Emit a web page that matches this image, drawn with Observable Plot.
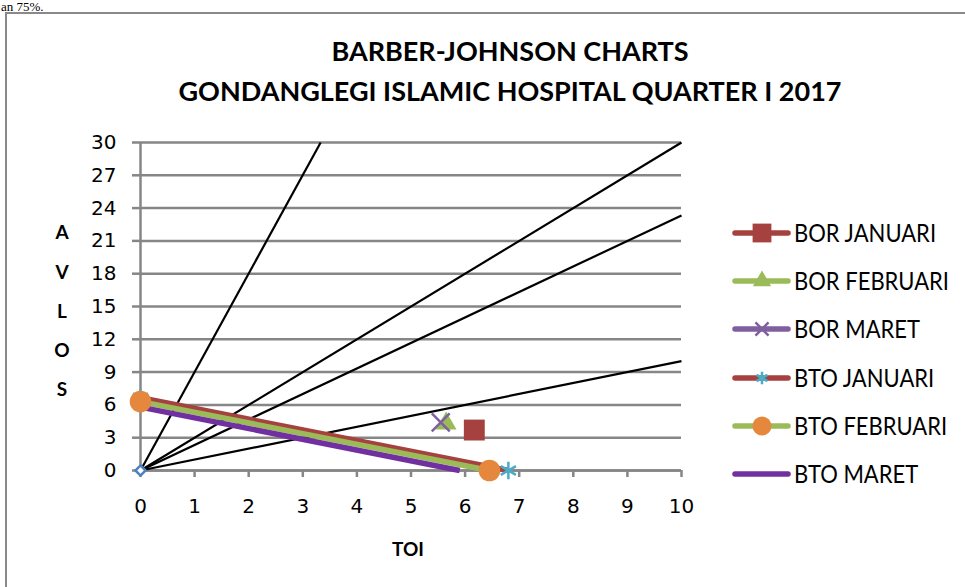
<!DOCTYPE html>
<html>
<head>
<meta charset="utf-8">
<script src="https://cdn.jsdelivr.net/npm/d3@7"></script>
<script src="https://cdn.jsdelivr.net/npm/@observablehq/plot@0.6"></script>
<style>
  body { margin: 0; background: #fff; }
  #wrap { position: relative; width: 965px; height: 587px; overflow: hidden; background: #fff; font-family: Lato, "Open Sans", sans-serif; }
  #frame { position: absolute; left: 5px; top: 12px; width: 980px; height: 600px; border: 2px solid #898989; box-sizing: border-box; }
  #chart { position: absolute; left: 0; top: 0; }
  .title { position: absolute; left: 0; width: 1020px; text-align: center; font-weight: bold; font-size: 27px; color: #000; white-space: nowrap; }
  .vlab { position: absolute; font-weight: bold; font-size: 19px; width: 30px; text-align: center; }
  #toi { position: absolute; font-weight: bold; font-size: 19px; }
  #topfrag { position: absolute; left: 1px; top: 0px; font-family: "Liberation Serif", serif; font-size: 13px; line-height: 13px; }
  #legend { position: absolute; left: 725px; top: 0; }
  .lrow { position: absolute; left: 0; height: 30px; white-space: nowrap; }
  .lrow span { position: absolute; left: 69px; top: 0; line-height: 30px; font-size: 22px; color: #000; transform: scaleY(1.1); transform-origin: 0 50%; }
</style>
</head>
<body>
<div id="wrap">
  <div id="topfrag">an 75%.</div>
  <div id="frame"></div>
  <div id="chart"></div>
  <div class="title" id="t1" style="top:34px">BARBER-JOHNSON CHARTS</div>
  <div class="title" id="t2" style="top:74px">GONDANGLEGI ISLAMIC HOSPITAL QUARTER I 2017</div>
  <div id="ylab"></div>
  <div id="toi">TOI</div>
  <div id="legend"></div>
</div>
<script>
// ---- data ----
const xTicks = [0, 1, 2, 3, 4, 5, 6, 7, 8, 9, 10];
const yTicks = [0, 3, 6, 9, 12, 15, 18, 21, 24, 27, 30];

// BOR reference lines from the origin (TOI, AVLOS at the far end)
const refNames = ["BOR 50%", "BOR 70%", "BOR 75%", "BOR 90%"];
const refToiEnd = [10, 10, 10, 3.33];
const refLosEnd = [10, 23.33, 30, 30];

// BTO lines: AVLOS intercept and TOI intercept
const btoNames = ["BTO JANUARI", "BTO FEBRUARI", "BTO MARET"];
const btoLos = [6.65, 6.3, 5.8];
const btoToi = [6.8, 6.45, 5.9];

// BOR points
const borNames = ["BOR JANUARI", "BOR FEBRUARI", "BOR MARET"];
const borToi = [6.17, 5.65, 5.55];
const borLos = [3.7, 4.3, 4.4];

const originToi = [0];
const originLos = [0];

// ---- styles ----
const GRAY = "#868686";
const btoColors = ["#A5423F", "#9BBB59", "#7030A0"];
const borColors = ["#A5423F", "#9BBB59", "#7F5FA0"];
const borSymbols = ["square", "triangle", "times"];
const borR = [11.8, 7.7, 8.2];

const refData = refNames.map((n, i) => ({name: n, x2: refToiEnd[i], y2: refLosEnd[i]}));
const btoData = btoNames.map((n, i) => ({name: n, los: btoLos[i], toi: btoToi[i], color: btoColors[i]}));
const borData = borNames.map((n, i) => ({name: n, toi: borToi[i], los: borLos[i]}));
const origin = originToi.map((t, i) => ({toi: t, los: originLos[i]}));

const btoJanEnds = [{toi: 0, los: btoLos[0]}, {toi: btoToi[0], los: 0}];
const btoFebEnds = [{toi: 0, los: btoLos[1]}, {toi: btoToi[1], los: 0}];

const marks = [
  Plot.gridY(yTicks, {stroke: GRAY, strokeOpacity: 1, strokeWidth: 2.5}),
  Plot.ruleX([0], {stroke: GRAY, strokeWidth: 2.5}),
  Plot.axisY(yTicks, {tickSize: 8, tickPadding: 16, stroke: GRAY, strokeWidth: 2.5, strokeOpacity: 1, fill: "#000", fontSize: 20, label: null, tickFormat: d => String(d)}),
  Plot.axisX(xTicks, {tickSize: 7, tickPadding: 21, stroke: GRAY, strokeWidth: 2.5, strokeOpacity: 1, fill: "#000", fontSize: 20, label: null, tickFormat: d => String(d)}),
  Plot.ruleY([0], {stroke: GRAY, strokeWidth: 2.5}),
  Plot.link(refData, {x1: () => 0, y1: () => 0, x2: "x2", y2: "y2", stroke: "#000", strokeWidth: 2.2}),
];
btoData.forEach(d => {
  marks.push(Plot.link([d], {x1: () => 0, y1: "los", x2: "toi", y2: () => 0, stroke: d.color, strokeWidth: 5.5}));
});
borData.forEach((d, i) => {
  if (borSymbols[i] === "times") {
    marks.push(Plot.dot([d], {x: "toi", y: "los", symbol: "times", r: borR[i], stroke: borColors[i], strokeWidth: 2.5}));
  } else {
    marks.push(Plot.dot([d], {x: "toi", y: "los", symbol: borSymbols[i], r: borR[i], fill: borColors[i], stroke: "none"}));
  }
});
marks.push(Plot.dot(btoJanEnds, {x: "toi", y: "los", symbol: "asterisk", r: 8.3, stroke: "#4BACC6", strokeWidth: 2.5}));
marks.push(Plot.dot(btoFebEnds, {x: "toi", y: "los", symbol: "circle", r: 10.8, fill: "#E5883D", stroke: "none"}));
marks.push(Plot.dot(origin, {x: "toi", y: "los", symbol: "diamond2", r: 4.6, fill: "#fff", stroke: "#4F81BD", strokeWidth: 2.5}));

const chart = Plot.plot({
  width: 965,
  height: 587,
  marginLeft: 140,
  marginRight: 284,
  marginTop: 142,
  marginBottom: 117,
  x: {domain: [0, 10], axis: null},
  y: {domain: [0, 30], axis: null},
  style: {background: "transparent", fontFamily: "'DejaVu Sans', sans-serif", fontSize: "20px", color: "#000"},
  marks
});
document.getElementById("chart").appendChild(chart);

// vertical AVLOS label
const ylab = document.getElementById("ylab");
const letters = ["A", "V", "L", "O", "S"];
const letterY = [232, 272, 311, 350, 389];
letters.forEach((c, i) => {
  const el = document.createElement("div");
  el.className = "vlab";
  el.textContent = c;
  el.style.left = "47px";
  el.style.top = (letterY[i] - 12) + "px";
  ylab.appendChild(el);
});
const toi = document.getElementById("toi");
toi.style.left = "392px";
toi.style.top = "537px";

// legend
const legendItems = [
  {name: borNames[0], line: "#A5423F", sym: "square", col: "#A5423F", r: 10.6, fillSym: true},
  {name: borNames[1], line: "#9BBB59", sym: "triangle", col: "#9BBB59", r: 6.8, fillSym: true},
  {name: borNames[2], line: "#7F5FA0", sym: "times", col: "#7F5FA0", r: 6.0, fillSym: false},
  {name: btoNames[0], line: "#A5423F", sym: "asterisk", col: "#4BACC6", r: 6.0, fillSym: false},
  {name: btoNames[1], line: "#9BBB59", sym: "circle", col: "#E5883D", r: 9.5, fillSym: true},
  {name: btoNames[2], line: "#7030A0", sym: null}
];
const symMap = {square: d3.symbolSquare, triangle: d3.symbolTriangle, times: d3.symbolTimes, asterisk: d3.symbolAsterisk, circle: d3.symbolCircle};
const legend = document.getElementById("legend");
const rowY = [233, 281, 329, 378, 426, 474];
legendItems.forEach((it, i) => {
  const row = document.createElement("div");
  row.className = "lrow";
  row.style.top = (rowY[i] - 15) + "px";
  const svg = d3.create("svg").attr("width", 66).attr("height", 30).style("position", "absolute").style("left", "0px").style("top", "0px");
  svg.append("line").attr("x1", 10).attr("x2", 63).attr("y1", 15).attr("y2", 15)
    .attr("stroke", it.line).attr("stroke-width", 5.5).attr("stroke-linecap", "round");
  if (it.sym) {
    const p = d3.symbol(symMap[it.sym], Math.PI * it.r * it.r)();
    const s = svg.append("path").attr("d", p).attr("transform", "translate(37,15)");
    if (it.fillSym) s.attr("fill", it.col); else s.attr("fill", "none").attr("stroke", it.col).attr("stroke-width", 2.5);
  }
  row.appendChild(svg.node());
  const sp = document.createElement("span");
  sp.textContent = it.name;
  row.appendChild(sp);
  legend.appendChild(row);
});
</script>
</body>
</html>
